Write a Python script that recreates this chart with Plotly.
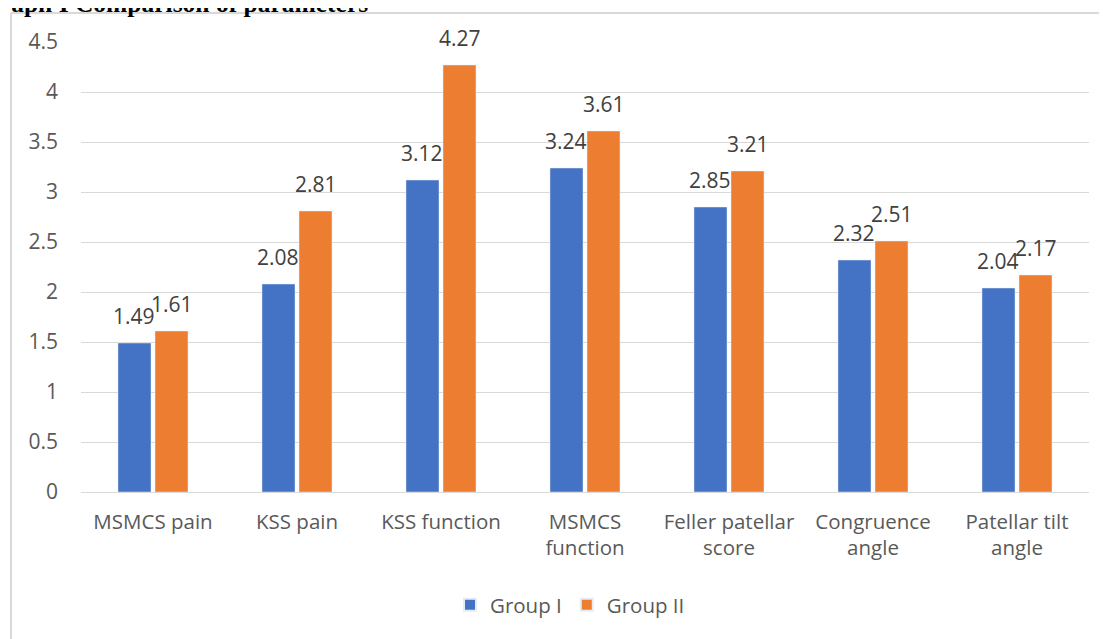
import plotly.graph_objects as go

categories = ["MSMCS pain", "KSS pain", "KSS function", "MSMCS function",
              "Feller patellar score", "Congruence angle", "Patellar tilt angle"]
tick_labels = ["MSMCS pain", "KSS pain", "KSS function", "MSMCS<br>function",
               "Feller patellar<br>score", "Congruence<br>angle", "Patellar tilt<br>angle"]
group1 = [1.49, 2.08, 3.12, 3.24, 2.85, 2.32, 2.04]
group2 = [1.61, 2.81, 4.27, 3.61, 3.21, 2.51, 2.17]
y_ticks = [0, 0.5, 1, 1.5, 2, 2.5, 3, 3.5, 4, 4.5]
y_tick_text = ["0", "0.5", "1", "1.5", "2", "2.5", "3", "3.5", "4", "4.5"]

# page has an 8px body margin; layout numbers below are in figure coordinates
OFF = 8
W, H = 1107, 639
ML, MR, MT, MB = 81 - OFF, 26, 42 - OFF, 155
PW, PH = W - ML - MR, H - MT - MB

def px(x):  # screen x -> paper
    return (x - OFF - ML) / PW

def py(y):  # screen y -> paper
    return 1 - (y - OFF - MT) / PH

FONT = "'Open Sans', sans-serif"
FS = 20.5
LBL = 21
BARGAP, GROUPGAP = 0.486, 0.108
CAT_W = PW / len(categories)
HALF = CAT_W * (1 - BARGAP) / 4  # offset of each bar centre from category centre

fig = go.Figure()
fig.add_trace(go.Bar(x=categories, y=group1, name="Group I", marker_color="#4472C4"))
fig.add_trace(go.Bar(x=categories, y=group2, name="Group II", marker_color="#ED7D31"))

annotations = []
for vals, sh in ((group1, -HALF), (group2, HALF)):
    for c, v in zip(categories, vals):
        annotations.append(dict(x=c, y=v, xref="x", yref="y", text=f"{v:.2f}",
                                showarrow=False, xanchor="center", yanchor="bottom",
                                xshift=sh, yshift=11,
                                font=dict(family=FONT, size=LBL, color="#404040")))
annotations.append(
    dict(text="<b>Graph I Comparison of parameters</b>", xref="paper", yref="paper",
         x=px(370), y=py(20), xanchor="right", yanchor="bottom", showarrow=False,
         font=dict(family="'Liberation Serif', 'Times New Roman', serif", size=25.5, color="black")))

fig.update_layout(
    width=W, height=H,
    margin=dict(l=ML, r=MR, t=MT, b=MB),
    paper_bgcolor="white", plot_bgcolor="white",
    barmode="group", bargap=BARGAP, bargroupgap=GROUPGAP,
    font=dict(family=FONT, size=FS, color="#595959"),
    showlegend=True,
    legend=dict(orientation="h", x=px(570), xanchor="center", y=py(605), yanchor="middle",
                font=dict(size=FS, color="#595959"), itemsizing="constant"),
    xaxis=dict(tickmode="array", tickvals=categories, ticktext=tick_labels,
               showgrid=False, showline=True, linecolor="#d9d9d9", linewidth=1,
               ticks="", ticklabelstandoff=11, tickfont=dict(size=FS, color="#595959")),
    yaxis=dict(range=[0, 4.5], tickmode="array", tickvals=y_ticks, ticktext=y_tick_text,
               showgrid=True, gridcolor="#d9d9d9", gridwidth=1, zeroline=False,
               ticks="", ticklabelstandoff=22, tickfont=dict(size=LBL, color="#595959")),
    shapes=[
        dict(type="line", xref="paper", yref="paper", x0=px(11), x1=px(11),
             y0=py(13), y1=py(660), line=dict(color="#d9d9d9", width=2)),
        dict(type="line", xref="paper", yref="paper", x0=px(11), x1=px(1130),
             y0=py(13), y1=py(13), line=dict(color="#d9d9d9", width=2)),
    ],
    annotations=annotations,
)

fig.write_html("out.html")
